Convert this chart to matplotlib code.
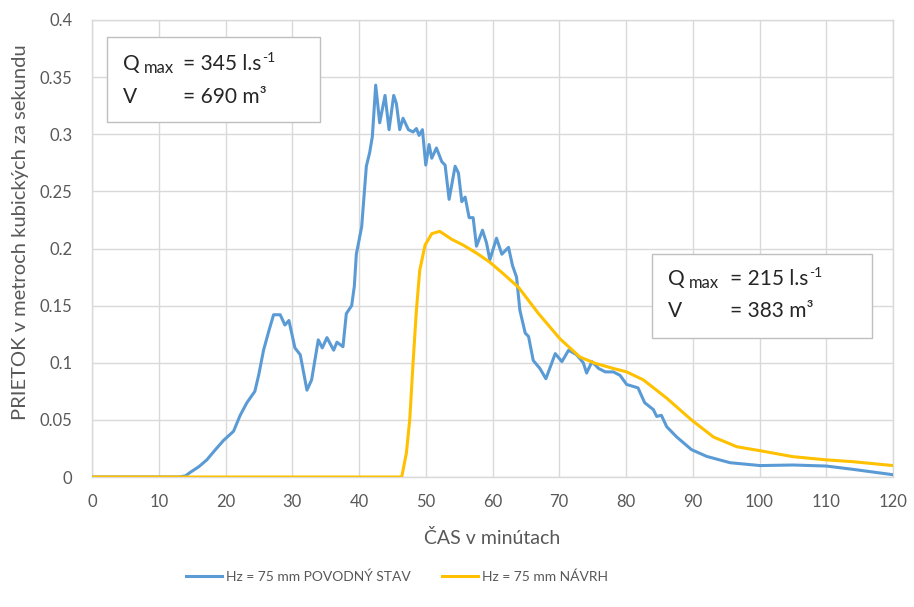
"""Hydrograph: povodný stav vs návrh (Hz = 75 mm)."""

import matplotlib.pyplot as plt
from matplotlib.patches import Rectangle
from matplotlib.ticker import FuncFormatter

plt.rcParams['font.family'] = ['Lato', 'DejaVu Sans']

# ── Data ────────────────────────────────────────────────────────────────────
blue_t = [0, 13.0, 14.0, 14.7, 16.0, 17.2, 18.5, 19.7, 21.2, 22.2, 23.2, 24.4,
          25.0, 25.7, 26.5, 27.2, 28.2, 28.9, 29.5, 30.4, 31.2, 32.2, 32.9,
          33.9, 34.5, 35.2, 36.2, 36.7, 37.6, 38.1, 38.9, 39.3, 39.6, 40.4,
          41.1, 41.6, 42.0, 42.5, 43.1, 43.9, 44.5, 45.2, 45.6, 46.1, 46.6,
          47.4, 48.1, 48.6, 49.0, 49.5, 50.0, 50.5, 50.9, 51.6, 52.4, 52.9,
          53.5, 54.4, 54.9, 55.4, 55.9, 56.5, 57.1, 57.6, 58.5, 59.1, 59.6,
          60.6, 61.4, 62.4, 63.0, 63.6, 64.1, 64.9, 65.4, 66.1, 67.1, 68.0,
          69.4, 70.4, 71.4, 72.6, 73.6, 74.1, 74.9, 75.9, 76.9, 78.1, 79.1,
          80.1, 81.8, 82.8, 84.1, 84.6, 85.3, 86.1, 87.6, 89.8, 92.1, 95.6,
          100.1, 105.0, 110.0, 114.0, 120.0]
blue_q = [0, 0, 0.001, 0.004, 0.009, 0.015, 0.024, 0.032, 0.040, 0.054, 0.065,
          0.075, 0.090, 0.111, 0.128, 0.142, 0.142, 0.133, 0.137, 0.113, 0.107,
          0.076, 0.085, 0.120, 0.113, 0.122, 0.111, 0.118, 0.114, 0.143, 0.150,
          0.167, 0.195, 0.219, 0.272, 0.284, 0.298, 0.343, 0.310, 0.334, 0.304,
          0.334, 0.327, 0.304, 0.314, 0.304, 0.302, 0.305, 0.299, 0.304, 0.273,
          0.291, 0.279, 0.288, 0.276, 0.273, 0.243, 0.272, 0.266, 0.241, 0.245,
          0.227, 0.227, 0.202, 0.216, 0.205, 0.190, 0.209, 0.195, 0.201, 0.185,
          0.175, 0.146, 0.126, 0.123, 0.102, 0.095, 0.086, 0.108, 0.101, 0.111,
          0.107, 0.100, 0.091, 0.101, 0.095, 0.092, 0.092, 0.089, 0.081, 0.078,
          0.065, 0.059, 0.053, 0.054, 0.044, 0.035, 0.024, 0.018, 0.0125,
          0.010, 0.0105, 0.0096, 0.0067, 0.002]

yellow_t = [0, 46.4, 47.1, 47.6, 48.1, 48.6, 49.1, 49.9, 50.9, 52.1, 53.9,
            55.6, 57.6, 59.6, 61.6, 63.9, 66.9, 70.1, 73.1, 75.4, 78.1, 80.1,
            82.6, 86.1, 89.8, 93.1, 96.6, 100.1, 105.0, 110.0, 114.0, 120.0]
yellow_q = [0, 0, 0.021, 0.050, 0.100, 0.146, 0.181, 0.203, 0.213, 0.215,
            0.208, 0.203, 0.196, 0.188, 0.178, 0.166, 0.143, 0.121, 0.105,
            0.0995, 0.095, 0.092, 0.085, 0.069, 0.050, 0.035, 0.0265, 0.023,
            0.0178, 0.015, 0.0134, 0.010]

labels = ["Hz = 75 mm POVODNÝ STAV", "Hz = 75 mm NÁVRH"]
x_ticks = list(range(0, 121, 10))
y_ticks = [0, 0.05, 0.1, 0.15, 0.2, 0.25, 0.3, 0.35, 0.4]

TXT = "#595959"
DARK = "#262626"
GRID = "#D9D9D9"
W, H = 914, 607


def fx(px):
    return px / W


def fy(py):
    return 1 - py / H


# ── Figure ──────────────────────────────────────────────────────────────────
fig = plt.figure(figsize=(9.14, 6.07), dpi=100)
ax = fig.add_axes([fx(92), fy(477), fx(893) - fx(92), fy(20) - fy(477)])

ax.plot(blue_t, blue_q, color="#5B9BD5", lw=2.2, label=labels[0], zorder=3,
        solid_joinstyle="round")
ax.plot(yellow_t, yellow_q, color="#FFC000", lw=2.2, label=labels[1], zorder=4,
        solid_joinstyle="round")

ax.set_xlim(0, 120)
ax.set_ylim(0, 0.4)
ax.set_xticks(x_ticks)
ax.set_yticks(y_ticks)
ax.yaxis.set_major_formatter(FuncFormatter(lambda v, p: f"{v:g}"))
ax.tick_params(length=0, labelsize=12, colors=TXT)
ax.tick_params(axis="y", pad=14)
ax.tick_params(axis="x", pad=12)
ax.grid(True, color=GRID, lw=1.0)
for s in ax.spines.values():
    s.set_color(GRID)
    s.set_linewidth(1.0)

fig.text(fx(21), fy(232), "PRIETOK v metroch kubických za sekundu", rotation=90,
         ha="center", va="center", fontsize=14.5, color=TXT)
fig.text(fx(492), fy(538), "ČAS v minútach", ha="center", va="center",
         fontsize=14, color=TXT)

fig.legend(loc="center", bbox_to_anchor=(fx(397), fy(577)), ncol=2, frameon=False,
           fontsize=10, labelcolor=TXT, handlelength=2.6, handletextpad=0.3,
           columnspacing=2.2)

# ── Annotation boxes (Q max / V) ────────────────────────────────────────────
boxes = [
    ((107, 37, 320, 122), (64, 97), ("345", "690"), (123, 183)),
    ((652, 254, 872, 338), (279, 311), ("215", "383"), (668, 730)),
]
renderer = fig.canvas.get_renderer()
for (x0, y0, x1, y1), (l1, l2), (qv, vv), (xq, xe) in boxes:
    fig.add_artist(Rectangle((fx(x0), fy(y1)), fx(x1) - fx(x0), fy(y0) - fy(y1),
                             transform=fig.transFigure, facecolor="white",
                             edgecolor="#BFBFBF", lw=1.0, zorder=5))
    q = fig.text(fx(xq), fy(l1 + 6), "Q", ha="left", va="baseline",
                 fontsize=15, color=DARK, zorder=6)
    qb = q.get_window_extent(renderer)
    fig.text((qb.x1 + 4) / W, fy(l1 + 9), "max", ha="left", va="baseline",
             fontsize=12, color=DARK, zorder=6)
    e = fig.text(fx(xe), fy(l1 + 6), f"= {qv} l.s", ha="left", va="baseline",
                 fontsize=15, color=DARK, zorder=6)
    eb = e.get_window_extent(renderer)
    fig.text((eb.x1 + 1) / W, fy(l1 - 2), "-1", ha="left", va="baseline",
             fontsize=10, color=DARK, zorder=6)
    fig.text(fx(xq), fy(l2 + 6), "V", ha="left", va="baseline",
             fontsize=15, color=DARK, zorder=6)
    fig.text(fx(xe), fy(l2 + 6), f"= {vv} m³", ha="left", va="baseline",
             fontsize=15, color=DARK, zorder=6)

fig.savefig("out.png", dpi=100)
